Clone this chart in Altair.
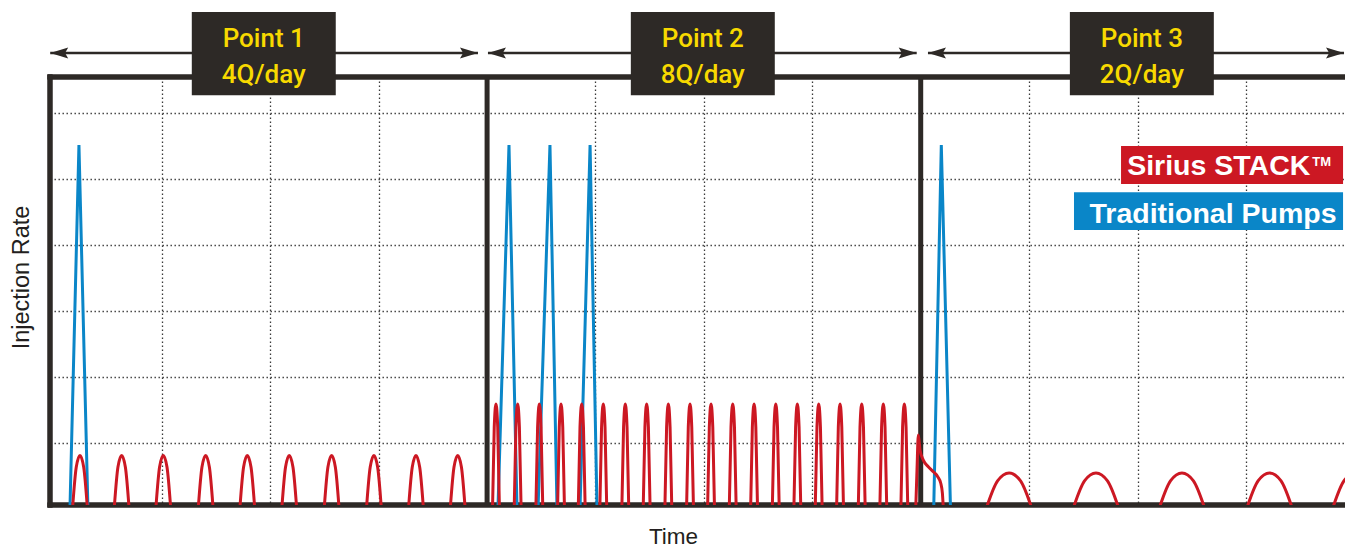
import altair as alt
import pandas as pd

# ---------------- data ----------------
# time axis in grid units (12 units, panel boundaries at 4 and 8)
panel_bounds = [4, 8]
grid_t = [1, 2, 3, 5, 6, 7, 9, 10, 11]
grid_y = [1, 2, 3, 4, 5, 6]

# Traditional pumps: triangular spikes (foot, peak, foot)
blue_t = [0.152, 0.235, 0.318,
          4.100, 4.202, 4.276,
          4.470, 4.580, 4.645,
          4.857, 4.950, 5.014,
          8.120, 8.190, 8.275]
blue_y = [0, 5.515, 0,
          0, 5.515, 0,
          0, 5.515, 0,
          0, 5.515, 0,
          0, 5.515, 0]

# Sirius STACK: pulse centres, half-widths and heights per point
p1_centers = [0.2445, 0.629, 1.013, 1.404, 1.788, 2.175, 2.566, 2.956, 3.344, 3.729]
p2_centers = [4.082, 4.282, 4.482, 4.682, 4.873, 5.072, 5.275, 5.472, 5.672, 5.872,
              6.066, 6.266, 6.463, 6.663, 6.862, 7.059, 7.256, 7.456, 7.655, 7.849]
p3_centers = [8.815, 9.617, 10.41, 11.218, 12.01]
pulse_halfwidth = [0.069, 0.032, 0.212]
pulse_height = [0.81, 1.59, 0.545]
# shape of one pulse (relative offset, relative height)
arc_u = [-1, -0.5, 0, 0.5, 1]
arc_h = [0, 0.78, 1, 0.78, 0]
# switch-over transient between point 2 and point 3
trans_t = [7.954, 7.966, 7.978, 7.994, 8.024, 8.070, 8.116, 8.157, 8.185, 8.200, 8.209]
trans_y = [0, 0.60, 1.12, 0.89, 0.74, 0.64, 0.565, 0.49, 0.39, 0.24, 0]

# annotations
label_top = ["Point 1", "Point 2", "Point 3"]
label_bottom = ["4Q/day", "8Q/day", "2Q/day"]
label_center = [1.94, 5.99, 10.04]
legend_labels = ["Sirius STACK", "Traditional Pumps"]
legend_marks = ["TM", ""]

RED = "#cc1823"
BLUE = "#0a86c8"
DARK = "#2d2926"
YELLOW = "#f8d900"
FONT = "Liberation Sans"
FONT_M = "Roboto"

W, H = 1295, 428

# ---------------- tables ----------------
blue_df = pd.DataFrame({"t": blue_t, "y": blue_y,
                        "seg": [i // 3 for i in range(len(blue_t))]})

rows = []
seg = 0
for centers, hw, hh in zip([p1_centers, p2_centers, p3_centers], pulse_halfwidth, pulse_height):
    for c in centers:
        for k, (u, h) in enumerate(zip(arc_u, arc_h)):
            rows.append({"t": c + u * hw, "y": h * hh, "seg": seg, "o": k})
        seg += 1
for k, (t, y) in enumerate(zip(trans_t, trans_y)):
    rows.append({"t": t, "y": y, "seg": seg, "o": k})
red_df = pd.DataFrame(rows)

bounds_df = pd.DataFrame({"t": panel_bounds})

box_half = 0.664
labels_df = pd.DataFrame({
    "c": label_center,
    "x1": [c - box_half for c in label_center],
    "x2": [c + box_half for c in label_center],
    "top": label_top,
    "bot": label_bottom,
})
labels_df["yb1"] = 7.53
labels_df["yb2"] = 6.27
labels_df["yt1"] = 7.005
labels_df["yt2"] = 6.452

arrow_df = pd.DataFrame({
    "a0": [-0.03, 4.008, 8.067],
    "a1": [3.916, 7.963, 11.905],
})
arrow_df["y"] = 6.909

legend_df = pd.DataFrame({
    "label": legend_labels,
    "tm": legend_marks,
    "col": [RED, BLUE],
    "x1": [9.848, 9.414],
    "x2": [11.896, 11.896],
    "y1": [5.50, 4.798],
    "y2": [4.924, 4.227],
    "ty": [5.061, 4.338],
    "tx": [11.594, 11.836],
    "tmy": [5.19, 4.4],
})
legend_df["tmx"] = 11.612

# ---------------- scales / axes ----------------
xs = alt.Scale(domain=[-0.032, 11.914], nice=False, zero=False)
ys = alt.Scale(domain=[0.0606, 6.545], nice=False, zero=False)

grid_kw = dict(grid=True, domain=False, ticks=False, labels=False,
               gridDash=[1.4, 2.6], gridColor="#3a3a3a", gridWidth=1.3,
               titleFont=FONT, titleFontWeight="normal",
               titleColor="#231f20")
xaxis = alt.Axis(title="Time", values=grid_t, titleX=623, titleY=38, titleFontSize=22.5,
                 titleAlign="center", titleBaseline="alphabetic", **grid_kw)
yaxis = alt.Axis(title="Injection Rate", values=grid_y, titleX=-22, titleY=200, titleFontSize=23.5,
                 titleAngle=270, titleAlign="center", titleBaseline="alphabetic", **grid_kw)


def X(f):
    return alt.X(f, scale=xs, axis=xaxis)


def Y(f):
    return alt.Y(f, scale=ys, axis=yaxis)


# ---------------- layers ----------------
frame_top = alt.Chart(bounds_df).mark_rule(color=DARK, strokeWidth=5, strokeCap="square").encode(
    x=alt.value(0), x2=alt.value(W), y=alt.value(0))
frame_bottom = alt.Chart(bounds_df).mark_rule(color=DARK, strokeWidth=5, strokeCap="square").encode(
    x=alt.value(0), x2=alt.value(W), y=alt.value(H))
frame_left = alt.Chart(bounds_df).mark_rule(color=DARK, strokeWidth=5, strokeCap="square").encode(
    x=alt.value(0), y=alt.value(0), y2=alt.value(H))
dividers = alt.Chart(bounds_df).mark_rule(color=DARK, strokeWidth=5).encode(
    x=X("t:Q"), y=alt.value(0), y2=alt.value(H))

blue_line = alt.Chart(blue_df).mark_line(color=BLUE, strokeWidth=3, clip=True,
                                         strokeJoin="miter", strokeMiterLimit=20).encode(
    x=X("t:Q"), y=Y("y:Q"), detail="seg:N", order="t:Q")

red_line = alt.Chart(red_df).mark_line(color=RED, strokeWidth=3, clip=True,
                                       interpolate="monotone").encode(
    x=X("t:Q"), y=Y("y:Q"), detail="seg:N", order="o:Q")

arrow_lines = alt.Chart(arrow_df).mark_rule(color=DARK, strokeWidth=2.5).encode(
    x=X("a0:Q"), x2="a1", y=Y("y:Q"))
head_left = alt.Chart(arrow_df).mark_point(
    shape="M0,0 L2,-0.62 L1.65,0 L2,0.62 Z", size=324, filled=True, opacity=1,
    color=DARK, strokeWidth=0).encode(x=X("a0:Q"), y=Y("y:Q"))
head_right = alt.Chart(arrow_df).mark_point(
    shape="M0,0 L-2,-0.62 L-1.65,0 L-2,0.62 Z", size=324, filled=True, opacity=1,
    color=DARK, strokeWidth=0).encode(x=X("a1:Q"), y=Y("y:Q"))

label_boxes = alt.Chart(labels_df).mark_rect(color=DARK).encode(
    x=X("x1:Q"), x2="x2", y=Y("yb1:Q"), y2="yb2")
label_text1 = alt.Chart(labels_df).mark_text(
    font=FONT_M, fontWeight=500, fontSize=26, color=YELLOW, align="center",
    baseline="alphabetic").encode(x=X("c:Q"), y=Y("yt1:Q"), text="top:N")
label_text2 = alt.Chart(labels_df).mark_text(
    font=FONT_M, fontWeight=500, fontSize=26, color=YELLOW, align="center",
    baseline="alphabetic").encode(x=X("c:Q"), y=Y("yt2:Q"), text="bot:N")

legend_boxes = alt.Chart(legend_df).mark_rect().encode(
    x=X("x1:Q"), x2="x2", y=Y("y1:Q"), y2="y2", color=alt.Color("col:N", scale=None))
legend_text = alt.Chart(legend_df).mark_text(
    font=FONT, fontSize=28.5, fontWeight="bold", color="white", align="right",
    baseline="alphabetic").encode(x=X("tx:Q"), y=Y("ty:Q"), text="label:N")
legend_tm = alt.Chart(legend_df).mark_text(
    font=FONT, fontSize=13, fontWeight="bold", color="white", align="left",
    baseline="alphabetic").encode(x=X("tmx:Q"), y=Y("tmy:Q"), text="tm:N")

chart = alt.layer(
    frame_top, frame_bottom, frame_left, dividers,
    blue_line, red_line,
    arrow_lines, head_left, head_right,
    label_boxes, label_text1, label_text2,
    legend_boxes, legend_text, legend_tm,
).properties(
    width=W, height=H,
    autosize=alt.AutoSizeParams(type="none"),
    padding={"left": 42, "top": 69, "right": 0, "bottom": 43},
    background="white",
).configure_view(stroke=None)

chart.save("out.html", embed_options={"renderer": "svg", "actions": False})
